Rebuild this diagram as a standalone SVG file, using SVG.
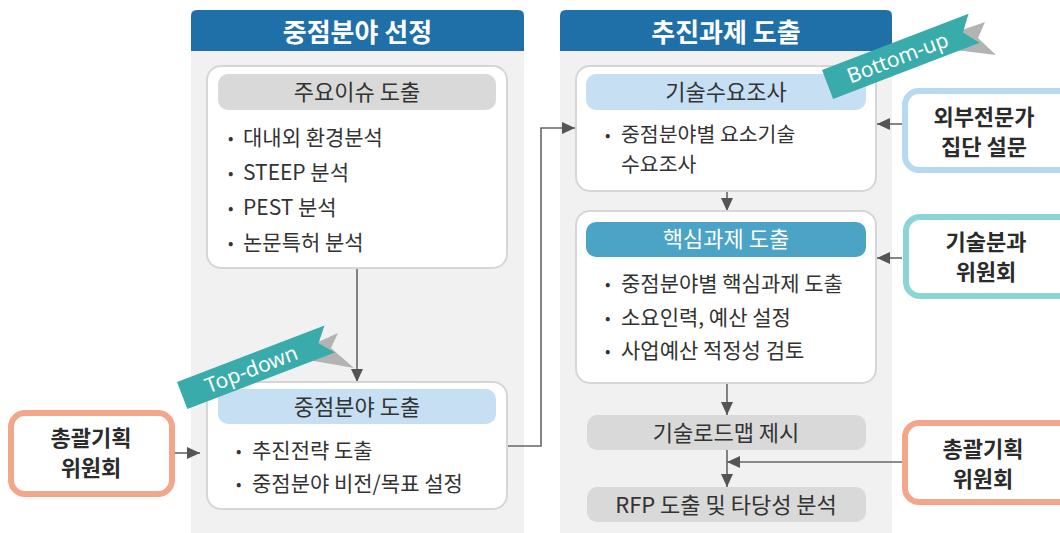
<svg xmlns="http://www.w3.org/2000/svg" width="1060" height="533" viewBox="0 0 1060 533">
<defs>
<style>
.panel{fill:#f1f1f1}
.hdr{fill:#1f6fa9}
.hdrt{font-family:"Noto Sans CJK KR","Noto Sans",sans-serif;font-size:26px;font-weight:bold;fill:#fff;text-anchor:middle}
.box{fill:#fff;stroke:#d6d6d6;stroke-width:2}
.pg{fill:#d9d9d9}
.pb{fill:#c6dff3}
.pd{fill:#4ba3c6}
.pt{font-family:"Noto Sans CJK KR","Noto Sans",sans-serif;font-size:22px;fill:#333;text-anchor:middle}
.t{font-family:"Noto Sans CJK KR","Noto Sans",sans-serif;font-size:21px;fill:#333}
.b{font-family:"Noto Sans CJK KR","Noto Sans",sans-serif;font-size:16px;fill:#333}
.sb{fill:#fff;stroke-width:6}
.st{font-family:"Noto Sans CJK KR","Noto Sans",sans-serif;font-size:22px;font-weight:bold;fill:#2b2b2b;text-anchor:middle}
.ln{fill:none;stroke:#666;stroke-width:1.6}
.rib{fill:#3aabab}
.sh{fill:#b3b3b3}
.rt{font-family:"Noto Sans","DejaVu Sans",sans-serif;font-size:21px;fill:#fff;text-anchor:middle}
</style>
<marker id="ah" markerUnits="userSpaceOnUse" markerWidth="14" markerHeight="14" viewBox="0 0 14 14" refX="13" refY="7" orient="auto">
<path d="M0,1 L13,7 L0,13 Z" fill="#555"/>
</marker>
</defs>

<g id="panel-left">
<rect class="panel" x="191" y="10" width="333" height="523"/>
<path class="hdr" d="M191,51 V16 Q191,10 197,10 H518 Q524,10 524,16 V51 Z"/>
<text class="hdrt" x="357.5" y="42">중점분야 선정</text>
</g>
<g id="panel-right">
<rect class="panel" x="560" y="10" width="332" height="523"/>
<path class="hdr" d="M560,51 V16 Q560,10 566,10 H886 Q892,10 892,16 V51 Z"/>
<text class="hdrt" x="726" y="42">추진과제 도출</text>
</g>

<g id="connectors">
<line class="ln" x1="357" y1="268" x2="357" y2="382" marker-end="url(#ah)"/>
<polyline class="ln" points="507,446 541,446 541,128 575,128" marker-end="url(#ah)"/>
<line class="ln" x1="175" y1="453" x2="200" y2="453" marker-end="url(#ah)"/>
<line class="ln" x1="727" y1="191" x2="727" y2="211" marker-end="url(#ah)"/>
<line class="ln" x1="727" y1="383" x2="727" y2="415" marker-end="url(#ah)"/>
<line class="ln" x1="727" y1="450" x2="727" y2="487" marker-end="url(#ah)"/>
<line class="ln" x1="902" y1="462" x2="727" y2="462" marker-end="url(#ah)"/>
<line class="ln" x1="902" y1="124" x2="877" y2="124" marker-end="url(#ah)"/>
<line class="ln" x1="902" y1="258" x2="877" y2="258" marker-end="url(#ah)"/>
</g>

<g id="node-issue">
<rect class="box" x="207" y="66" width="300" height="202" rx="14"/>
<rect class="pg" x="218" y="74" width="278" height="36" rx="10"/>
<text class="pt" x="357" y="100">주요이슈 도출</text>
<text class="b" x="228" y="144">•</text><text class="t" x="243" y="145">대내외 환경분석</text>
<text class="b" x="228" y="179">•</text><text class="t" x="243" y="180">STEEP 분석</text>
<text class="b" x="228" y="214">•</text><text class="t" x="243" y="215">PEST 분석</text>
<text class="b" x="228" y="249">•</text><text class="t" x="243" y="250">논문특허 분석</text>
</g>

<g id="node-field">
<rect class="box" x="207" y="382" width="300" height="127" rx="14"/>
<rect class="pb" x="218" y="389" width="278" height="35" rx="10"/>
<text class="pt" x="357" y="415">중점분야 도출</text>
<text class="b" x="236" y="457">•</text><text class="t" x="252" y="458">추진전략 도출</text>
<text class="b" x="236" y="490">•</text><text class="t" x="252" y="491">중점분야  비전/목표 설정</text>
</g>

<g id="node-demand">
<rect class="box" x="576" y="66" width="300" height="125" rx="14"/>
<rect class="pb" x="586" y="74" width="280" height="36" rx="10"/>
<text class="pt" x="726" y="100">기술수요조사</text>
<text class="b" x="605" y="141">•</text>
<text class="t" x="621" y="142" style="font-size:20.5px">중점분야별 요소기술</text>
<text class="t" x="621" y="172" style="font-size:20.5px">수요조사</text>
</g>

<g id="node-core">
<rect class="box" x="576" y="211" width="300" height="172" rx="14"/>
<rect class="pd" x="586" y="222" width="280" height="35" rx="10"/>
<text class="pt" x="726" y="247" style="fill:#fff">핵심과제 도출</text>
<text class="b" x="605" y="290">•</text><text class="t" x="621" y="291">중점분야별 핵심과제 도출</text>
<text class="b" x="605" y="324">•</text><text class="t" x="621" y="325">소요인력, 예산 설정</text>
<text class="b" x="605" y="357">•</text><text class="t" x="621" y="358">사업예산 적정성 검토</text>
</g>

<g id="node-roadmap">
<rect class="pg" x="587" y="415" width="279" height="35" rx="10"/>
<text class="pt" x="726" y="441">기술로드맵 제시</text>
</g>

<g id="node-rfp">
<rect class="pg" x="587" y="487" width="279" height="35" rx="10"/>
<text class="pt" x="726" y="513">RFP 도출 및 타당성 분석</text>
</g>

<g id="node-committee-left">
<rect class="sb" x="11" y="413" width="161" height="81" rx="14" stroke="#f4a68b"/>
<text class="st" x="91" y="446">총괄기획</text>
<text class="st" x="91" y="476">위원회</text>
</g>

<g id="node-experts">
<rect class="sb" x="905" y="91" width="170" height="79" rx="14" stroke="#b6d8f1"/>
<text class="st" x="984" y="125">외부전문가</text>
<text class="st" x="984" y="155">집단 설문</text>
</g>

<g id="node-subcommittee">
<rect class="sb" x="906" y="217" width="170" height="79" rx="14" stroke="#8ad5d5"/>
<text class="st" x="986" y="250">기술분과</text>
<text class="st" x="986" y="280">위원회</text>
</g>

<g id="node-committee-right">
<rect class="sb" x="905" y="423" width="170" height="79" rx="14" stroke="#f4a68b"/>
<text class="st" x="983" y="457">총괄기획</text>
<text class="st" x="983" y="487">위원회</text>
</g>

<g id="ribbon-topdown">
<polygon class="sh" points="316,343 338,333 331,348 354,368 308,360"/>
<g transform="translate(177,382) rotate(-21)">
<polygon class="rib" points="0,0 158,0 146,14.5 158,29 0,29"/>
<text class="rt" x="74" y="22">Top-down</text>
</g>
</g>

<g id="ribbon-bottomup">
<polygon class="sh" points="962,30 985,22 978,38 996,55 955,50"/>
<g transform="translate(822,70) rotate(-21)">
<polygon class="rib" points="0,0 157,0 145,15.5 157,31 0,31"/>
<text class="rt" x="75" y="23">Bottom-up</text>
</g>
</g>
</svg>
